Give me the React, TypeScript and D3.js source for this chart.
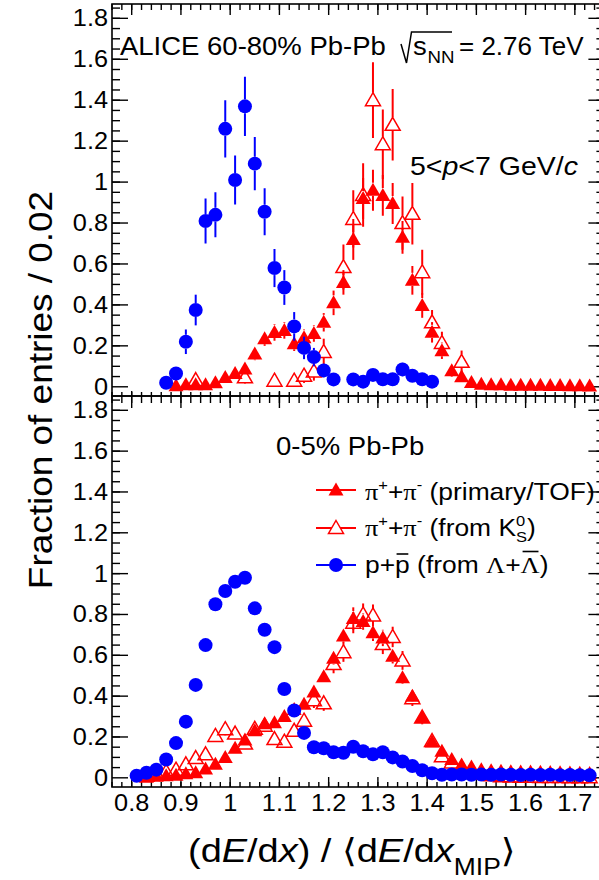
import React, { useLayoutEffect, useRef, useState } from "react";
import * as d3 from "d3";

const W = 599;
const H = 880;
const FONT = "'Liberation Sans', Arial, Helvetica, sans-serif";
const SERIF = "'Liberation Serif', 'Times New Roman', serif";
const SX = 1.1;

const X_DOMAIN = [0.76, 1.76];
const Y_DOMAIN = [-0.045, 1.87];
const X_TICKS = [0.8, 0.9, 1.0, 1.1, 1.2, 1.3, 1.4, 1.5, 1.6, 1.7];
const X_TICK_LABELS = ["0.8", "0.9", "1", "1.1", "1.2", "1.3", "1.4", "1.5", "1.6", "1.7"];
const Y_TICKS = [0, 0.2, 0.4, 0.6, 0.8, 1.0, 1.2, 1.4, 1.6, 1.8];
const Y_TICK_LABELS = ["0", "0.2", "0.4", "0.6", "0.8", "1", "1.2", "1.4", "1.6", "1.8"];

type Pt = [number, number, number]; // [bin centre, fraction, error]

// ---- 60-80% Pb-Pb ----
const TOP_PI_TOF: Pt[] = [
  [0.89, 0.005, 0.005], [0.91, 0.01, 0.007], [0.93, 0.01, 0.007], [0.95, 0.01, 0.007],
  [0.97, 0.02, 0.01], [0.99, 0.045, 0.015], [1.01, 0.065, 0.02], [1.03, 0.087, 0.02],
  [1.05, 0.16, 0.03], [1.07, 0.235, 0.035], [1.09, 0.265, 0.04], [1.11, 0.275, 0.04],
  [1.13, 0.21, 0.035], [1.15, 0.24, 0.04], [1.17, 0.26, 0.04], [1.19, 0.315, 0.045],
  [1.21, 0.41, 0.06], [1.23, 0.51, 0.06], [1.25, 0.72, 0.1], [1.27, 0.92, 0.1],
  [1.29, 0.96, 0.1], [1.31, 0.935, 0.1], [1.33, 0.895, 0.1], [1.35, 0.73, 0.08],
  [1.37, 0.52, 0.07], [1.39, 0.397, 0.06], [1.41, 0.266, 0.05], [1.43, 0.176, 0.04],
  [1.45, 0.078, 0.03], [1.47, 0.049, 0.02], [1.49, 0.021, 0.015], [1.51, 0.012, 0.01],
  [1.53, 0.01, 0.008], [1.55, 0.01, 0.008], [1.57, 0.008, 0.007], [1.59, 0.008, 0.007],
  [1.61, 0.008, 0.007], [1.63, 0.007, 0.006], [1.65, 0.006, 0.006], [1.67, 0.006, 0.006],
  [1.69, 0.005, 0.005], [1.71, 0.005, 0.005], [1.73, 0.004, 0.004],
];
const TOP_PI_K0: Pt[] = [
  [0.93, 0.033, 0.03], [1.03, 0.046, 0.03], [1.09, 0.03, 0.03], [1.13, 0.03, 0.03],
  [1.15, 0.054, 0.035], [1.17, 0.075, 0.045], [1.19, 0.17, 0.065], [1.23, 0.585, 0.11],
  [1.25, 0.82, 0.14], [1.27, 0.937, 0.155], [1.29, 1.4, 0.185], [1.31, 1.185, 0.17],
  [1.33, 1.28, 0.175], [1.35, 0.8, 0.13], [1.37, 0.845, 0.15], [1.39, 0.56, 0.11],
  [1.41, 0.315, 0.06], [1.43, 0.214, 0.055], [1.47, 0.122, 0.055],
];
const TOP_PROTON: Pt[] = [
  [0.87, 0.02, 0.02], [0.89, 0.065, 0.03], [0.91, 0.22, 0.06], [0.93, 0.375, 0.075],
  [0.95, 0.81, 0.11], [0.97, 0.84, 0.11], [0.99, 1.26, 0.14], [1.01, 1.01, 0.12],
  [1.03, 1.37, 0.145], [1.05, 1.09, 0.13], [1.07, 0.855, 0.115], [1.09, 0.58, 0.093],
  [1.11, 0.485, 0.085], [1.13, 0.295, 0.07], [1.15, 0.19, 0.055], [1.17, 0.145, 0.045],
  [1.19, 0.08, 0.035], [1.21, 0.036, 0.025], [1.25, 0.036, 0.025], [1.27, 0.025, 0.02],
  [1.29, 0.058, 0.03], [1.31, 0.037, 0.025], [1.33, 0.037, 0.025], [1.35, 0.085, 0.035],
  [1.37, 0.054, 0.03], [1.39, 0.037, 0.025], [1.41, 0.025, 0.02],
];

// ---- 0-5% Pb-Pb ----
const BOT_PI_TOF: Pt[] = [
  [0.83, 0.003, 0.003], [0.85, 0.008, 0.004], [0.87, 0.01, 0.005], [0.89, 0.012, 0.005],
  [0.91, 0.02, 0.006], [0.93, 0.025, 0.007], [0.95, 0.043, 0.008], [0.97, 0.067, 0.01],
  [0.99, 0.1, 0.012], [1.01, 0.145, 0.014], [1.03, 0.185, 0.015], [1.05, 0.23, 0.017],
  [1.07, 0.265, 0.018], [1.09, 0.27, 0.018], [1.11, 0.3, 0.02], [1.13, 0.335, 0.02],
  [1.15, 0.36, 0.021], [1.17, 0.42, 0.023], [1.19, 0.495, 0.025], [1.21, 0.585, 0.03],
  [1.23, 0.695, 0.035], [1.25, 0.78, 0.055], [1.27, 0.765, 0.04], [1.29, 0.71, 0.04],
  [1.31, 0.685, 0.04], [1.33, 0.595, 0.035], [1.35, 0.49, 0.03], [1.37, 0.4, 0.028],
  [1.39, 0.295, 0.025], [1.41, 0.176, 0.02], [1.43, 0.13, 0.015], [1.45, 0.09, 0.012],
  [1.47, 0.063, 0.01], [1.49, 0.053, 0.009], [1.51, 0.04, 0.008], [1.53, 0.035, 0.007],
  [1.55, 0.032, 0.007], [1.57, 0.03, 0.006], [1.59, 0.029, 0.006], [1.61, 0.028, 0.006],
  [1.63, 0.027, 0.006], [1.65, 0.026, 0.006], [1.67, 0.025, 0.006], [1.69, 0.024, 0.005],
  [1.71, 0.022, 0.005], [1.73, 0.021, 0.005],
];
const BOT_PI_K0: Pt[] = [
  [0.83, 0.01, 0.01], [0.85, 0.02, 0.01], [0.87, 0.03, 0.012], [0.89, 0.04, 0.014],
  [0.91, 0.066, 0.017], [0.93, 0.097, 0.02], [0.95, 0.115, 0.022], [0.97, 0.205, 0.028],
  [0.99, 0.238, 0.03], [1.01, 0.217, 0.028], [1.03, 0.168, 0.025], [1.05, 0.24, 0.03],
  [1.07, 0.255, 0.031], [1.09, 0.19, 0.027], [1.11, 0.177, 0.026], [1.13, 0.23, 0.03],
  [1.15, 0.28, 0.033], [1.17, 0.38, 0.038], [1.19, 0.365, 0.037], [1.21, 0.557, 0.045],
  [1.23, 0.615, 0.047], [1.25, 0.76, 0.052], [1.27, 0.8, 0.054], [1.29, 0.795, 0.054],
  [1.31, 0.655, 0.049], [1.33, 0.69, 0.05], [1.35, 0.575, 0.046], [1.37, 0.39, 0.038],
  [1.39, 0.295, 0.033], [1.41, 0.18, 0.026], [1.43, 0.105, 0.02], [1.45, 0.075, 0.018],
  [1.47, 0.05, 0.015], [1.49, 0.035, 0.012], [1.51, 0.02, 0.01], [1.53, 0.012, 0.008],
  [1.55, 0.008, 0.006], [1.57, 0.006, 0.005], [1.59, 0.005, 0.005], [1.61, 0.005, 0.005],
  [1.63, 0.004, 0.004], [1.65, 0.004, 0.004], [1.67, 0.004, 0.004], [1.69, 0.003, 0.003],
  [1.71, 0.003, 0.003], [1.73, 0.003, 0.003],
];
const BOT_PROTON: Pt[] = [
  [0.81, 0.01, 0.004], [0.83, 0.025, 0.005], [0.85, 0.04, 0.006], [0.87, 0.09, 0.008],
  [0.89, 0.17, 0.01], [0.91, 0.275, 0.012], [0.93, 0.455, 0.015], [0.95, 0.65, 0.018],
  [0.97, 0.85, 0.02], [0.99, 0.915, 0.02], [1.01, 0.96, 0.02], [1.03, 0.98, 0.02],
  [1.05, 0.83, 0.02], [1.07, 0.725, 0.018], [1.09, 0.64, 0.017], [1.11, 0.435, 0.015],
  [1.13, 0.33, 0.013], [1.15, 0.22, 0.011], [1.17, 0.15, 0.009], [1.19, 0.145, 0.009],
  [1.21, 0.125, 0.008], [1.23, 0.123, 0.008], [1.25, 0.152, 0.009], [1.27, 0.13, 0.008],
  [1.29, 0.115, 0.008], [1.31, 0.125, 0.008], [1.33, 0.1, 0.008], [1.35, 0.08, 0.007],
  [1.37, 0.058, 0.006], [1.39, 0.037, 0.005], [1.41, 0.022, 0.004], [1.43, 0.015, 0.004],
  [1.45, 0.016, 0.004], [1.47, 0.016, 0.004], [1.49, 0.015, 0.004], [1.51, 0.016, 0.004],
  [1.53, 0.015, 0.004], [1.55, 0.016, 0.004], [1.57, 0.015, 0.004], [1.59, 0.014, 0.004],
  [1.61, 0.015, 0.004], [1.63, 0.014, 0.004], [1.65, 0.015, 0.004], [1.67, 0.013, 0.004],
  [1.69, 0.014, 0.004], [1.71, 0.013, 0.004], [1.73, 0.012, 0.004],
];

const RED = "#ff0000";
const BLUE = "#0000ff";
const FRAME_L = 112;
const FRAME_R = 604.4;

const tri = (cx: number, cy: number) =>
  `M${cx},${cy - 7.5}L${cx + 7.5},${cy + 5.5}L${cx - 7.5},${cy + 5.5}Z`;

type Part = { t: string; it?: boolean; fam?: string; shift?: number; size?: number; dx?: number; bar?: number };

function Rich({ x, y, size, sx = SX, parts, anchor = "start", rot = 0 }: {
  x: number; y: number; size: number; sx?: number; parts: Part[]; anchor?: string; rot?: number;
}) {
  const refs = useRef<(SVGTSpanElement | null)[]>([]);
  const [bars, setBars] = useState<{ x1: number; x2: number; y: number }[]>([]);
  useLayoutEffect(() => {
    const out: { x1: number; x2: number; y: number }[] = [];
    parts.forEach((p, i) => {
      const el = refs.current[i];
      if (p.bar !== undefined && el) {
        const b = el.getBBox();
        out.push({ x1: b.x + b.width * 0.1, x2: b.x + b.width * 0.9, y: p.bar });
      }
    });
    setBars(out);
  }, []);
  let prev = 0;
  return (
    <g transform={`translate(${x},${y}) rotate(${rot}) scale(${sx},1)`}>
      <text textAnchor={anchor as any} fontSize={size} fontFamily={FONT} style={{ whiteSpace: "pre" }} fill="#000">
        {parts.map((p, i) => {
          const s = p.shift || 0;
          const dy = s - prev;
          prev = s;
          return (
            <tspan
              key={i}
              ref={(el) => { refs.current[i] = el; }}
              dy={dy !== 0 ? dy : undefined}
              dx={p.dx}
              fontStyle={p.it ? "italic" : undefined}
              fontFamily={p.fam}
              fontSize={p.size}
            >
              {p.t}
            </tspan>
          );
        })}
      </text>
      {bars.map((b, i) => (
        <line key={i} x1={b.x1} x2={b.x2} y1={b.y} y2={b.y} stroke="#000" strokeWidth={1.6} />
      ))}
    </g>
  );
}

type Series = { data: Pt[]; kind: "tri" | "otri" | "circ"; color: string };

function Panel({ id, top, bottom, series, xLabels, tTop, tBot }: {
  id: string; top: number; bottom: number; series: Series[]; xLabels: boolean;
  tTop: [number, number]; tBot: [number, number];
}) {
  const x = d3.scaleLinear().domain(X_DOMAIN).range([FRAME_L, FRAME_R]);
  const y = d3.scaleLinear().domain(Y_DOMAIN).range([bottom, top]);
  const xMinor = d3.range(38, 89).map((i) => +(i * 0.02).toFixed(2));
  const yMinor = d3.range(1, 38).map((i) => +(i * 0.05).toFixed(2));
  const tick = "#000";
  return (
    <g>
      <defs>
        <clipPath id={id}>
          <rect x={FRAME_L} y={top} width={FRAME_R - FRAME_L} height={bottom - top} />
        </clipPath>
      </defs>
      {/* ticks */}
      <g stroke={tick} strokeWidth={1.4}>
        {xMinor.map((v, i) => (
          <g key={"xm" + i}>
            <line x1={x(v)} x2={x(v)} y1={top} y2={top + tTop[1]} />
            <line x1={x(v)} x2={x(v)} y1={bottom} y2={bottom - tBot[1]} />
          </g>
        ))}
        {X_TICKS.map((v, i) => (
          <g key={"xM" + i}>
            <line x1={x(v)} x2={x(v)} y1={top} y2={top + tTop[0]} />
            <line x1={x(v)} x2={x(v)} y1={bottom} y2={bottom - tBot[0]} />
          </g>
        ))}
        {yMinor.map((v, i) => (
          <g key={"ym" + i}>
            <line x1={FRAME_L} x2={FRAME_L + 8} y1={y(v)} y2={y(v)} />
            <line x1={FRAME_R} x2={FRAME_R - 8} y1={y(v)} y2={y(v)} />
          </g>
        ))}
        {Y_TICKS.map((v, i) => (
          <g key={"yM" + i}>
            <line x1={FRAME_L} x2={FRAME_L + 16} y1={y(v)} y2={y(v)} />
            <line x1={FRAME_R} x2={FRAME_R - 16} y1={y(v)} y2={y(v)} />
          </g>
        ))}
      </g>
      {/* y tick labels */}
      {Y_TICKS.map((v, i) => (
        <Rich key={"yl" + i} x={108} y={y(v) + 8} size={23} anchor="end" parts={[{ t: Y_TICK_LABELS[i] }]} />
      ))}
      {xLabels &&
        X_TICKS.map((v, i) => (
          <Rich key={"xl" + i} x={x(v)} y={811} size={23} anchor="middle" parts={[{ t: X_TICK_LABELS[i] }]} />
        ))}
      {/* data */}
      <g clipPath={`url(#${id})`}>
        {series.map((s, si) => (
          <g key={si}>
            {s.data.map(([bx, v, e], i) => {
              const cx = x(bx);
              const cy = y(v);
              const gu = s.kind === "circ" ? 7 : 7.5;
              const gd = s.kind === "circ" ? 7 : 5.5;
              const yt = y(v + e);
              const yb = y(v - e);
              return (
                <g key={i}>
                  {yt < cy - gu && (
                    <line x1={cx} x2={cx} y1={yt} y2={cy - gu} stroke={s.color} strokeWidth={2} />
                  )}
                  {yb > cy + gd && (
                    <line x1={cx} x2={cx} y1={cy + gd} y2={yb} stroke={s.color} strokeWidth={2} />
                  )}
                  {s.kind === "circ" && <circle cx={cx} cy={cy} r={7} fill={s.color} />}
                  {s.kind === "tri" && <path d={tri(cx, cy)} fill={s.color} />}
                  {s.kind === "otri" && (
                    <path d={tri(cx, cy)} fill="none" stroke={s.color} strokeWidth={1.5} />
                  )}
                </g>
              );
            })}
          </g>
        ))}
      </g>
      {/* frame */}
      <rect x={FRAME_L} y={top} width={FRAME_R - FRAME_L} height={bottom - top} fill="none" stroke="#000" strokeWidth={1.6} />
    </g>
  );
}

export default function App() {
  const pi = "\u03c0";
  const lam = "\u039b";
  return (
    <svg
      width={W}
      height={H}
      viewBox={`0 0 ${W} ${H}`}
      style={{ position: "absolute", left: 0, top: 0, background: "#fff" }}
    >
      <rect x={0} y={0} width={W} height={H} fill="#fff" />
      <Panel
        id="clipTop"
        top={4}
        bottom={396}
        xLabels={false}
        tTop={[11, 6]}
        tBot={[5, 4]}
        series={[
          { data: TOP_PI_TOF, kind: "tri", color: RED },
          { data: TOP_PI_K0, kind: "otri", color: RED },
          { data: TOP_PROTON, kind: "circ", color: BLUE },
        ]}
      />
      <Panel
        id="clipBot"
        top={396}
        bottom={787}
        xLabels={true}
        tTop={[12, 7]}
        tBot={[10, 5]}
        series={[
          { data: BOT_PI_TOF, kind: "tri", color: RED },
          { data: BOT_PI_K0, kind: "otri", color: RED },
          { data: BOT_PROTON, kind: "circ", color: BLUE },
        ]}
      />

      {/* top panel labels */}
      <Rich x={120} y={55} size={25} parts={[{ t: "ALICE 60-80% Pb-Pb" }]} />
      <path d="M401,44 L406.5,63 L411.5,32 L452,32" fill="none" stroke="#000" strokeWidth={1.5} />
      <Rich x={413} y={55} size={25} parts={[{ t: "s" }]} />
      <Rich x={427.5} y={63} size={17} parts={[{ t: "NN" }]} />
      <Rich x={459} y={55} size={25} sx={1.04} parts={[{ t: "= 2.76 TeV" }]} />
      <Rich
        x={410}
        y={175}
        size={25}
        sx={1.14}
        parts={[{ t: "5<" }, { t: "p", it: true }, { t: "<7 GeV/" }, { t: "c", it: true }]}
      />

      {/* bottom panel labels */}
      <Rich x={276} y={455} size={25} parts={[{ t: "0-5% Pb-Pb" }]} />

      {/* legend */}
      <line x1={316} x2={356} y1={490} y2={490} stroke={RED} strokeWidth={2} />
      <path d={tri(336, 490)} fill={RED} />
      <line x1={316} x2={356} y1={528} y2={528} stroke={RED} strokeWidth={2} />
      <path d={tri(336, 528)} fill="#fff" stroke={RED} strokeWidth={1.5} />
      <line x1={316} x2={356} y1={565} y2={565} stroke={BLUE} strokeWidth={2} />
      <circle cx={336} cy={565} r={7} fill={BLUE} />

      <Rich
        x={365}
        y={500}
        size={24}
        parts={[
          { t: pi, fam: SERIF },
          { t: "+", size: 15, shift: -10 },
          { t: "+", shift: 0 },
          { t: pi, fam: SERIF },
          { t: "-", size: 15, shift: -10 },
          { t: " (primary/TOF)", shift: 0 },
        ]}
      />
      <Rich
        x={365}
        y={536}
        size={24}
        parts={[
          { t: pi, fam: SERIF },
          { t: "+", size: 15, shift: -10 },
          { t: "+", shift: 0 },
          { t: pi, fam: SERIF },
          { t: "-", size: 15, shift: -10 },
          { t: " (from K", shift: 0 },
          { t: "0", size: 15, shift: -10 },
          { t: "S", size: 15, shift: 6, dx: -8.3 },
          { t: ")", shift: 0 },
        ]}
      />
      <Rich
        x={365}
        y={573}
        size={24}
        parts={[
          { t: "p+" },
          { t: "p", bar: -19 },
          { t: " (from " },
          { t: lam, fam: SERIF },
          { t: "+" },
          { t: lam, fam: SERIF, bar: -21.5 },
          { t: ")" },
        ]}
      />

      {/* axis titles */}
      <Rich
        x={52}
        y={390}
        size={33}
        sx={1.12}
        rot={-90}
        anchor="middle"
        parts={[{ t: "Fraction of entries / 0.02" }]}
      />
      <Rich
        x={188}
        y={862}
        size={33}
        sx={1.15}
        parts={[
          { t: "(d" },
          { t: "E", it: true },
          { t: "/d" },
          { t: "x", it: true },
          { t: ") / " },
          { t: "\u27e8", fam: "'DejaVu Sans', sans-serif" },
          { t: "d" },
          { t: "E", it: true },
          { t: "/d" },
          { t: "x", it: true },
          { t: "MIP", size: 23, shift: 13 },
          { t: "\u27e9", fam: "'DejaVu Sans', sans-serif", shift: 0 },
        ]}
      />
    </svg>
  );
}
